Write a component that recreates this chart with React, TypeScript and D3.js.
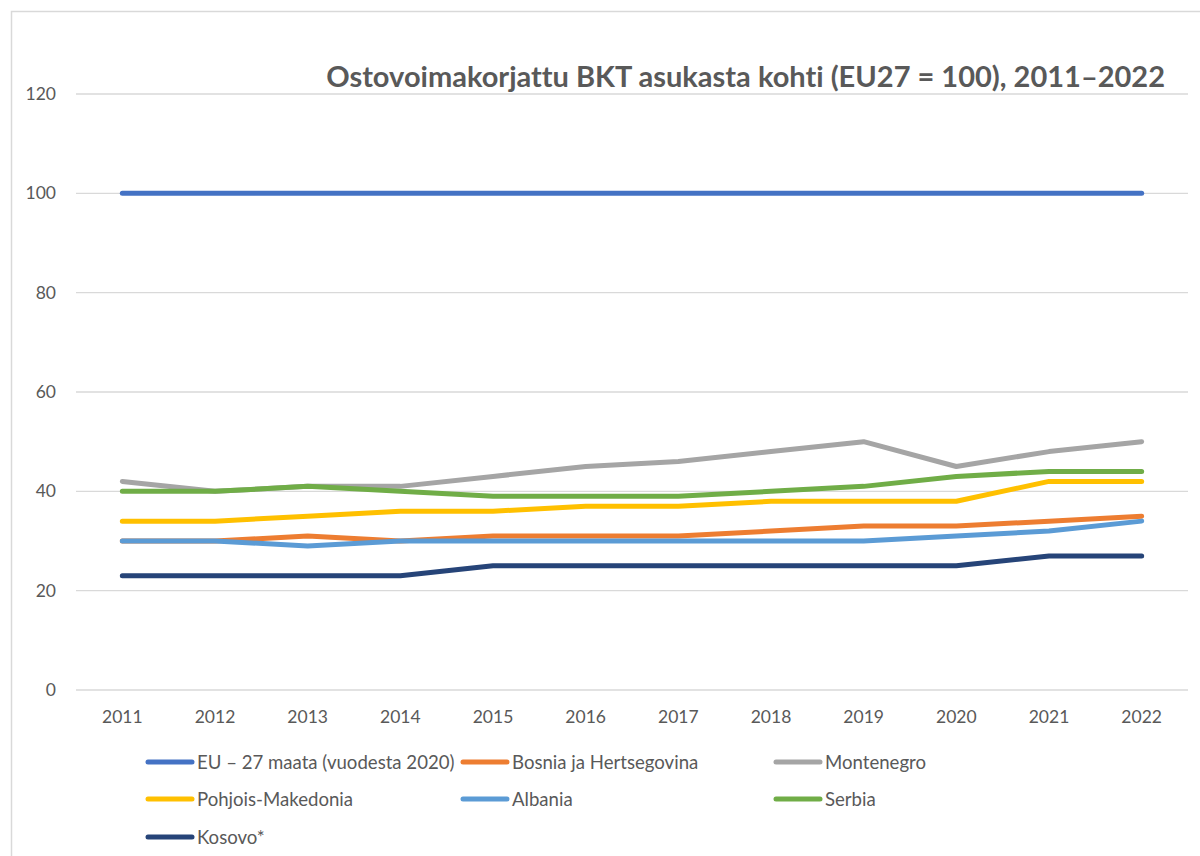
import React from "react";
import * as d3 from "d3";

const years = ["2011","2012","2013","2014","2015","2016","2017","2018","2019","2020","2021","2022"];
const yTicks = [0, 20, 40, 60, 80, 100, 120];

const seriesNames = [
  "EU – 27 maata (vuodesta 2020)",
  "Bosnia ja Hertsegovina",
  "Montenegro",
  "Pohjois-Makedonia",
  "Albania",
  "Serbia",
  "Kosovo*",
];
const seriesColors = ["#4472C4", "#ED7D31", "#A5A5A5", "#FFC000", "#5B9BD5", "#70AD47", "#264478"];

const eu27 = [100,100,100,100,100,100,100,100,100,100,100,100];
const bosnia = [30,30,31,30,31,31,31,32,33,33,34,35];
const montenegro = [42,40,41,41,43,45,46,48,50,45,48,50];
const northMacedonia = [34,34,35,36,36,37,37,38,38,38,42,42];
const albania = [30,30,29,30,30,30,30,30,30,31,32,34];
const serbia = [40,40,41,40,39,39,39,40,41,43,44,44];
const kosovo = [23,23,23,23,25,25,25,25,25,25,27,27];

const seriesValues = [eu27, bosnia, montenegro, northMacedonia, albania, serbia, kosovo];

const title = "Ostovoimakorjattu BKT asukasta kohti (EU27 = 100), 2011–2022";

export default function App() {
  const W = 1200, H = 856;
  const left = 76, right = 1188, top = 94, bottom = 690;
  const x = d3.scaleBand().domain(years).range([left, right]);
  const y = d3.scaleLinear().domain([0, 120]).range([bottom, top]);
  const line = d3.line<number>()
    .x((_, i) => (x(years[i]) as number) + x.bandwidth() / 2)
    .y((d) => y(d));
  const font = "Lato, 'Open Sans', sans-serif";
  const textColor = "#595959";

  const legendPos = [
    [148, 762], [463, 762], [776, 762],
    [148, 799], [463, 799], [776, 799],
    [148, 837],
  ];

  return (
    <svg width={W} height={H} style={{ position: "absolute", left: 0, top: 0 }}>
      <rect x={0} y={0} width={W} height={H} fill="#fff" />
      <rect x={11.5} y={11.5} width={W + 20} height={H + 20} fill="none" stroke="#D9D9D9" strokeWidth={1.5} />
      {yTicks.map((t) => (
        <g key={t}>
          <line x1={left} x2={right} y1={y(t)} y2={y(t)} stroke="#D9D9D9" strokeWidth={1.3} />
          <text x={56} y={y(t)} dy="0.35em" textAnchor="end" fontFamily={font} fontSize={17.5} fill={textColor}>{t}</text>
        </g>
      ))}
      {years.map((yr) => (
        <text key={yr} x={(x(yr) as number) + x.bandwidth() / 2} y={723} textAnchor="middle" fontFamily={font} fontSize={17.5} fill={textColor}>{yr}</text>
      ))}
      <text x={1165} y={87} textAnchor="end" fontFamily={font} fontWeight={700} fontSize={29} fill={textColor} style={{ fontVariantLigatures: "none" }}>{title}</text>
      {seriesValues.map((vals, i) => (
        <path key={i} d={line(vals) || ""} fill="none" stroke={seriesColors[i]} strokeWidth={5} strokeLinecap="round" strokeLinejoin="round" />
      ))}
      {seriesNames.map((name, i) => {
        const [lx, ly] = legendPos[i];
        return (
          <g key={name}>
            <line x1={lx} x2={lx + 44} y1={ly} y2={ly} stroke={seriesColors[i]} strokeWidth={5} strokeLinecap="round" />
            <text x={lx + 49} y={ly} dy="0.35em" fontFamily={font} fontSize={18.6} fill={textColor}>{name}</text>
          </g>
        );
      })}
    </svg>
  );
}
